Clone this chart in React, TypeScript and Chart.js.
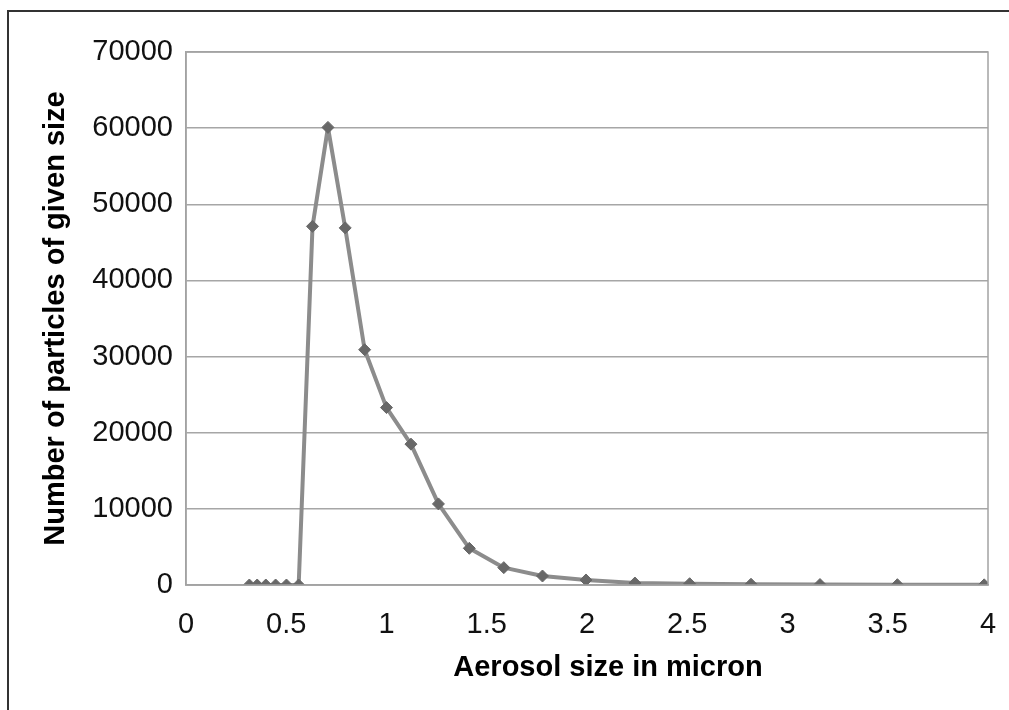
import React, { useEffect, useRef } from "react";
import { Chart, registerables } from "chart.js";

Chart.register(...registerables);

const sizes = [0.316, 0.355, 0.398, 0.447, 0.501, 0.562, 0.631, 0.708, 0.794, 0.891, 1.0, 1.122, 1.259, 1.413, 1.585, 1.778, 1.995, 2.239, 2.512, 2.818, 3.162, 3.548, 3.981];
const counts = [0, 0, 0, 0, 0, 0, 47100, 60100, 46900, 30900, 23300, 18500, 10650, 4820, 2280, 1180, 660, 260, 170, 100, 60, 40, 20];
const xTitle = "Aerosol size in micron";
const yTitle = "Number of particles of given size";

const FONT = "'Liberation Sans', Arial, Helvetica, sans-serif";

const framePlugin = {
  id: "frame",
  afterDraw(chart: any) {
    const { ctx, chartArea } = chart;
    ctx.save();
    ctx.strokeStyle = "#a3a3a3";
    ctx.lineWidth = 1.5;
    ctx.strokeRect(chartArea.left, chartArea.top, chartArea.right - chartArea.left, chartArea.bottom - chartArea.top);
    // x axis title, slightly right of centre as in the original
    ctx.fillStyle = "#000";
    ctx.font = `bold 29px ${FONT}`;
    ctx.textAlign = "center";
    ctx.textBaseline = "middle";
    ctx.fillText(xTitle, (chartArea.left + chartArea.right) / 2 + 21, 668);
    ctx.restore();
  },
};

export default function App() {
  const ref = useRef<HTMLCanvasElement>(null);
  useEffect(() => {
    if (!ref.current) return;
    const chart = new Chart(ref.current, {
      type: "line",
      data: {
        datasets: [
          {
            data: sizes.map((s, i) => ({ x: s, y: counts[i] })),
            borderColor: "#8c8c8c",
            borderWidth: 4,
            borderJoinStyle: "round",
            pointStyle: "rectRot",
            pointRadius: 6,
            pointBackgroundColor: "#686868",
            pointBorderColor: "#686868",
            pointBorderWidth: 1,
            tension: 0,
            fill: false,
          },
        ],
      },
      options: {
        responsive: false,
        animation: false,
        layout: { padding: { top: 52, right: 21, left: 0, bottom: 0 } },
        plugins: { legend: { display: false }, tooltip: { enabled: false } },
        scales: {
          x: {
            type: "linear",
            min: 0,
            max: 4,
            afterFit(scale: any) {
              scale.height = 125;
              scale.paddingLeft = 0;
              scale.paddingRight = 0;
            },
            ticks: {
              stepSize: 0.5,
              padding: 23,
              color: "#111",
              font: { family: FONT, size: 29 },
              callback: (v: any) => String(Math.round(Number(v) * 10) / 10),
            },
            grid: { display: false, drawTicks: false },
            border: { display: true, color: "#a3a3a3", width: 1.5 },
            title: { display: false },
          },
          y: {
            min: 0,
            max: 70000,
            afterFit(scale: any) {
              scale.width = 186;
            },
            ticks: {
              stepSize: 10000,
              padding: 13,
              color: "#111",
              font: { family: FONT, size: 29 },
              callback: (v: any) => String(v),
            },
            grid: { display: true, drawTicks: false, color: "#a6a6a6", lineWidth: 1.5 },
            border: { display: true, color: "#a3a3a3", width: 1.5 },
            title: {
              display: true,
              text: yTitle,
              color: "#000",
              font: { family: FONT, size: 29, weight: "bold" },
              padding: { top: 39, bottom: 0 },
            },
          },
        },
      },
      plugins: [framePlugin],
    });
    return () => chart.destroy();
  }, []);

  return (
    <>
      <div
        style={{
          position: "fixed",
          left: 7,
          top: 10,
          right: 0,
          bottom: 0,
          borderTop: "2px solid #333",
          borderLeft: "2px solid #333",
          background: "#fff",
        }}
      />
      <canvas
        ref={ref}
        width={1009}
        height={710}
        style={{ position: "fixed", left: 0, top: 0, width: 1009, height: 710 }}
      />
    </>
  );
}
